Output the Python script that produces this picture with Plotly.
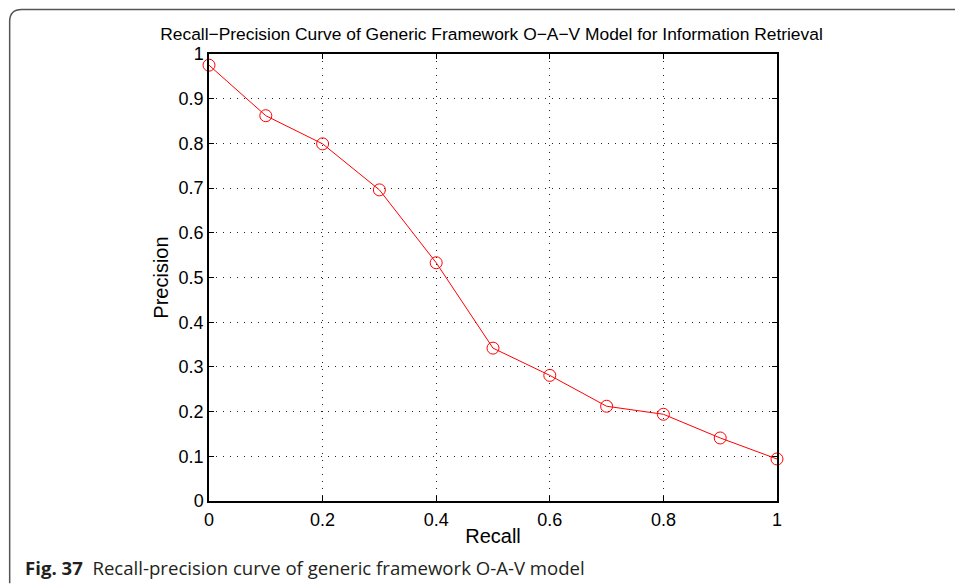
import plotly.graph_objects as go

recall = [0.0, 0.1, 0.2, 0.3, 0.4, 0.5, 0.6, 0.7, 0.8, 0.9, 1.0]
precision = [0.975, 0.862, 0.799, 0.696, 0.533, 0.342, 0.281, 0.212, 0.194, 0.141, 0.094]
x_ticks = [0, 0.2, 0.4, 0.6, 0.8, 1]
x_ticklabels = ["0", "0.2", "0.4", "0.6", "0.8", "1"]
y_ticks = [0, 0.1, 0.2, 0.3, 0.4, 0.5, 0.6, 0.7, 0.8, 0.9, 1]
y_ticklabels = ["0", "0.1", "0.2", "0.3", "0.4", "0.5", "0.6", "0.7", "0.8", "0.9", "1"]

W, H = 955, 586
L, R, T, B = 208.5, 777, 53.5, 501.5

def px(x):
    return (x - L) / (R - L)

def py(y):
    return (B - y) / (B - T)

fig = go.Figure()
fig.add_trace(go.Scatter(
    x=recall, y=precision, mode="lines+markers",
    line=dict(color="#ff0000", width=1),
    marker=dict(symbol="circle-open", size=12, color="#ff0000", line=dict(width=1, color="#ff0000")),
    cliponaxis=False, showlegend=False,
))

axis_common = dict(
    showline=True, linecolor="black", linewidth=1.5, mirror="ticks",
    ticks="inside", ticklen=5, tickcolor="black", tickwidth=1,
    showgrid=True, gridcolor="#222222", griddash="1px,6px", gridwidth=1,
    zeroline=False, tickfont=dict(family="Liberation Sans, Arial, sans-serif", size=18, color="black"),
)

fig.update_xaxes(range=[0, 1], tickvals=x_ticks, ticktext=x_ticklabels, ticklabelstandoff=2,
                 title=dict(text="Recall", font=dict(family="Liberation Sans, Arial", size=20, color="black"), standoff=0),
                 **axis_common)
fig.update_yaxes(range=[0, 1], tickvals=y_ticks, ticktext=y_ticklabels,
                 title=dict(text="Precision", font=dict(family="Liberation Sans, Arial", size=20, color="black"), standoff=5),
                 **axis_common)

# rounded border frame
x0, y0, y1 = px(9), py(9), py(584)
x1 = px(975)
rx = (12) / (R - L)
ry = (12) / (B - T)
path = (f"M {x0},{y1 - 0} L {x0},{y0 - ry} Q {x0},{y0} {x0 + rx},{y0} L {x1},{y0}")
fig.add_shape(type="path", path=path, xref="paper", yref="paper",
              line=dict(color="#555555", width=1.5))

fig.add_annotation(
    text="<b>Fig. 37</b>  Recall-precision curve of generic framework O-A-V model",
    xref="paper", yref="paper", x=px(22), y=py(568), xanchor="left", yanchor="middle",
    showarrow=False, font=dict(family="Open Sans, Noto Sans, sans-serif", size=18.6, color="#231f20"),
)

fig.update_layout(
    width=W, height=H,
    margin=dict(l=L, r=W - R, t=T, b=H - B, pad=0),
    paper_bgcolor="white", plot_bgcolor="white",
    title=dict(text="Recall\u2212Precision Curve of Generic Framework O\u2212A\u2212V Model for Information Retrieval",
               xref="container", x=491.5 / W, xanchor="center", yref="container", y=1 - 34 / H, yanchor="middle",
               font=dict(family="Liberation Sans, Arial", size=17.4, color="black")),
)

fig.write_html("out.html")
